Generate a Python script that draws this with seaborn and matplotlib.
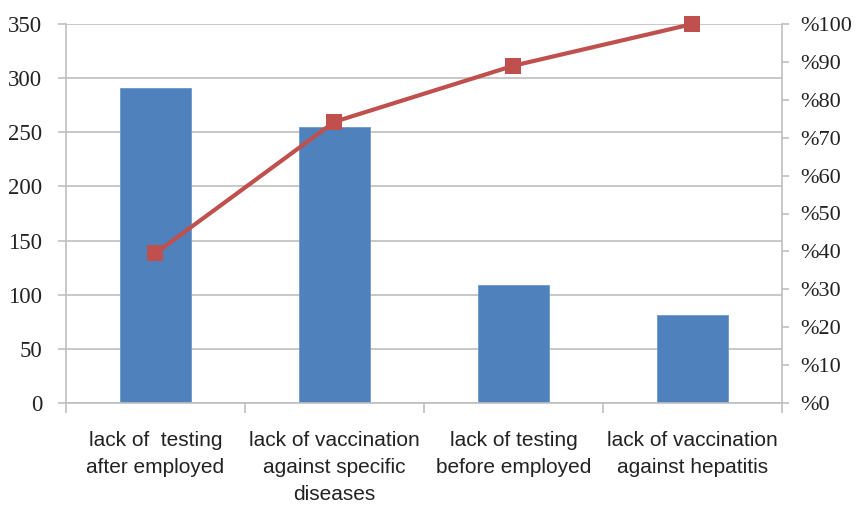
import matplotlib
matplotlib.use("Agg")
import matplotlib.pyplot as plt
import seaborn as sns
import pandas as pd
from matplotlib.ticker import FixedLocator

categories = ["lack of  testing\nafter employed",
              "lack of vaccination\nagainst specific\ndiseases",
              "lack of testing\nbefore employed",
              "lack of vaccination\nagainst hepatitis"]
counts = [291, 255, 109, 81]
cumulative_pct = [39.5, 74.2, 89.0, 100.0]
left_ticks = [0, 50, 100, 150, 200, 250, 300, 350]
right_ticks = [0, 10, 20, 30, 40, 50, 60, 70, 80, 90, 100]
right_labels = ["%" + str(t) for t in right_ticks]

sns.set_theme(style="white")
plt.rcParams['font.family'] = ['Liberation Serif', 'DejaVu Serif']

df = pd.DataFrame({"cat": categories, "count": counts, "pct": cumulative_pct})

fig = plt.figure(figsize=(8.57, 5.05), dpi=100)
ax = fig.add_axes([66/857, 1-403/505, (782-66)/857, (403-24)/505])

grid_c = "#BFBFBF"
sns.barplot(data=df, x="cat", y="count", ax=ax, color="#4F81BD", width=0.4,
            saturation=1, edgecolor="#6E97C8", linewidth=0.6, zorder=2)
ax.set_xlim(-0.5, 3.5)
ax.set_ylim(0, 350)
ax.set_yticks(left_ticks)
ax.yaxis.grid(True, color=grid_c, linewidth=1.2, zorder=0)
ax.set_axisbelow(True)
ax.set_xlabel("")
ax.set_ylabel("")
for s in ["top", "right"]:
    ax.spines[s].set_visible(False)
for s in ["left", "bottom"]:
    ax.spines[s].set_color(grid_c)
    ax.spines[s].set_linewidth(1.2)
ax.tick_params(axis="y", which="major", length=6, color=grid_c, width=1.2,
               labelsize=16.5, pad=11, direction="out", left=True)
ax.xaxis.set_minor_locator(FixedLocator([-0.5, 0.5, 1.5, 2.5, 3.5]))
ax.tick_params(axis="x", which="minor", length=7, color=grid_c, width=1.2,
               direction="out", bottom=True)
ax.tick_params(axis="x", which="major", length=0, pad=20)
for lbl in ax.get_xticklabels():
    lbl.set_fontfamily(["Liberation Sans", "DejaVu Sans"])
    lbl.set_fontsize(15)
    lbl.set_color("#222222")
    lbl.set_va("top")
    lbl.set_linespacing(1.55)

ax2 = ax.twinx()
sns.lineplot(data=df, x="cat", y="pct", ax=ax2, sort=False, color="#C0504D",
             linewidth=3, marker="s", markersize=11.5, markeredgewidth=0,
             zorder=5, clip_on=False)
ax2.set_ylim(0, 100)
ax2.set_yticks(right_ticks)
ax2.set_yticklabels(right_labels)
ax2.set_ylabel("")
ax2.set_xlabel("")
for s in ["top", "left", "bottom"]:
    ax2.spines[s].set_visible(False)
ax2.spines["right"].set_color(grid_c)
ax2.spines["right"].set_linewidth(1.2)
ax2.tick_params(axis="y", length=5, color=grid_c, width=1.2, labelsize=16,
                pad=8, direction="out", right=True)
for lbl in ax.get_yticklabels() + ax2.get_yticklabels():
    lbl.set_color("#222222")

fig.savefig("out.png", dpi=100)
